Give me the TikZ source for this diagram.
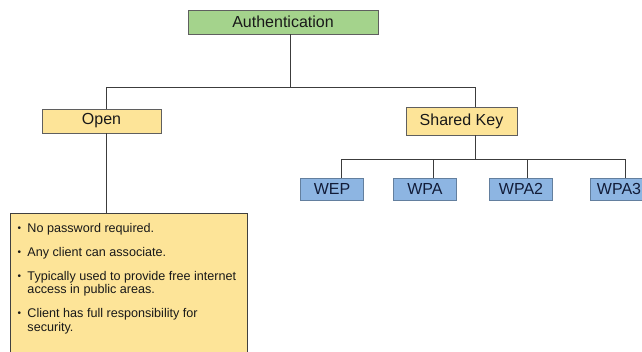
\documentclass[tikz,border=0pt]{standalone}
\usepackage{fontspec}
\setmainfont{Liberation Sans}

\definecolor{authgreen}{RGB}{164,211,140}
\definecolor{openyellow}{RGB}{253,228,152}
\definecolor{keyblue}{RGB}{141,181,226}
\definecolor{edgegray}{RGB}{95,95,95}
\definecolor{navytext}{RGB}{18,28,56}
\definecolor{wiregray}{RGB}{60,60,60}

% one bullet entry of the description panel
\newcommand{\infoitem}[1]{%
  \hangindent=10pt\hangafter=1\noindent
  \makebox[10pt][l]{\raisebox{1pt}{\fontsize{10}{10}\selectfont\textbullet}}#1\par\vspace{10.5pt}}

\begin{document}
\begin{tikzpicture}[x=1pt,y=1pt,
  box/.style={draw=edgegray, line width=0.8pt, inner sep=0pt,
    font=\fontsize{16}{18}\selectfont, text=black!90},
  topbox/.style={box, fill=authgreen, minimum width=190pt, minimum height=24pt},
  yellowbox/.style={box, fill=openyellow},
  bluebox/.style={box, fill=keyblue, draw=keyblue!70!black,
    minimum width=63pt, minimum height=22pt, text=navytext},
  infobox/.style={draw=black!75, line width=1pt, fill=openyellow, inner sep=0pt,
    anchor=north west, font=\fontsize{12.6}{13.5}\selectfont, text=black!90},
  wire/.style={draw=wiregray, line width=1pt}
]
\useasboundingbox (0,0) rectangle (642,-351);
\fill[white] (0,0) rectangle (642,-351);
\clip (0,0) rectangle (642,-351);

% boxes
\node[topbox] (auth) at (283,-22) {Authentication};
\node[yellowbox, minimum width=119pt, minimum height=24pt] (open) at (101.5,-121) {Open};
\node[yellowbox, minimum width=111pt, minimum height=28pt] (shared) at (461.5,-121) {Shared Key};

\node[bluebox] (wep)  at (332,-189) {WEP};
\node[bluebox] (wpa)  at (425,-189) {WPA};
\node[bluebox] (wpa2) at (521,-189) {WPA2};
\node[bluebox, minimum width=58pt] (wpa3) at (619,-189) {WPA3};

\node[infobox] (info) at (10,-213) {%
  \parbox[t][150pt][t]{237pt}{%
    \leftskip=7pt\rightskip=0pt plus 1fil
    \vspace*{9.5pt}%
    \infoitem{No password required.}
    \infoitem{Any client can associate.}
    \infoitem{Typically used to provide free internet\\access in public areas.}
    \infoitem{Client has full responsibility for\\security.}
  }};

% bus lines
\coordinate (busA) at (0,-87);
\coordinate (busB) at (0,-159);

\draw[wire] ([xshift=7pt]auth.south) -- ([xshift=7pt]auth.south |- busA);
\draw[wire] ([xshift=4.5pt]open.north) |- ([xshift=13.5pt]shared.north |- busA)
  -- ([xshift=13.5pt]shared.north);
\draw[wire] ([xshift=4.5pt]open.south) -- ([xshift=4.5pt]open.south |- info.north);

\draw[wire] ([xshift=13.5pt]shared.south) -- ([xshift=13.5pt]shared.south |- busB);
\draw[wire] ([xshift=9pt]wep.north) |- ([xshift=6pt]wpa3.north |- busB)
  -- ([xshift=6pt]wpa3.north);
\draw[wire] ([xshift=8pt]wpa.north) -- ([xshift=8pt]wpa.north |- busB);
\draw[wire] ([xshift=6pt]wpa2.north) -- ([xshift=6pt]wpa2.north |- busB);
\end{tikzpicture}
\end{document}
